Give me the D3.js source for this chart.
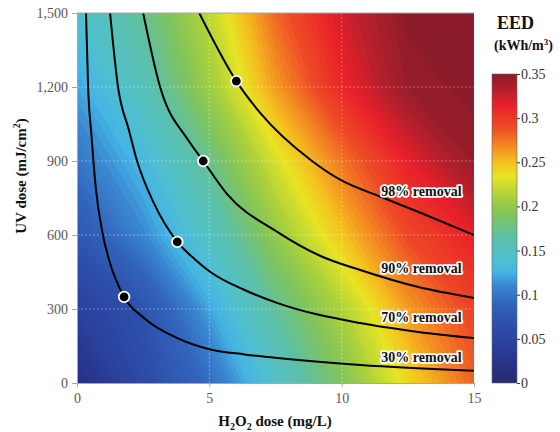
<!DOCTYPE html>
<html lang="en">
<head>
<meta charset="UTF-8">
<title>EED vs UV and H2O2 dose</title>
<style>
  body { margin: 0; background: #fff; }
  svg text { font-family: "Liberation Serif", "Times New Roman", serif; }
</style>
</head>
<body>
<div id="chart"></div>
<script src="https://d3js.org/d3.v7.min.js"></script>
<script>
// H2O2 dose (mg/L) columns and UV dose (mJ/cm2) rows of the EED field
var h2o2Grid = [0, 2.5, 5, 7.5, 10, 12.5, 15];
var uvGrid = [0, 300, 600, 900, 1200, 1500];
// EED (kWh/m3), one row per UV dose, lowest UV first
var eedRows = [
  [0.015, 0.060, 0.095, 0.145, 0.190, 0.240, 0.282],
  [0.045, 0.070, 0.120, 0.170, 0.212, 0.262, 0.295],
  [0.075, 0.110, 0.150, 0.200, 0.248, 0.292, 0.315],
  [0.100, 0.130, 0.175, 0.228, 0.275, 0.315, 0.345],
  [0.120, 0.155, 0.205, 0.262, 0.310, 0.345, 0.350],
  [0.140, 0.172, 0.218, 0.280, 0.322, 0.350, 0.350]
];

// removal curves, [H2O2, UV]
var curve30 = [[0.34,1500],[0.42,1200],[0.55,1000],[0.7,800],[0.98,600],[1.21,500],[1.78,349],[2.54,263],[3.79,182],[5.04,136],[6.33,116],[7.58,101],[10.7,73],[15,50]];
var curve70 = [[1.25,1500],[1.55,1200],[1.96,1026],[2.27,900],[2.9,730],[3.79,572],[4.48,499],[5.04,450],[6.33,377],[7.58,324],[10.7,243],[12.9,207],[15,182]];
var curve90 = [[2.5,1500],[3.14,1200],[4.2,985],[4.77,900],[5.68,765],[7.58,612],[9.2,515],[10.7,458],[12.9,389],[15,345]];
var curve98 = [[4.62,1500],[6.02,1224],[6.93,1094],[8.83,904],[9.96,823],[11.5,754],[13.0,689],[15,600]];
var curveNames = ["30% removal", "70% removal", "90% removal", "98% removal"];
// label anchor (left edge, baseline) in data units
var labelPos = [[11.5, 85], [11.5, 247], [11.5, 446], [11.5, 758]];
// marked operating points
var points = [[1.78,349],[3.79,572],[4.77,900],[6.02,1224]];

var xTicks = [0, 5, 10, 15];
var yTicks = [0, 300, 600, 900, 1200, 1500];
var eedTicks = [0, 0.05, 0.1, 0.15, 0.2, 0.25, 0.3, 0.35];
var eedTickLabels = ["0", "0.05", "0.1", "0.15", "0.2", "0.25", "0.3", "0.35"];

// colour map as seen on the colour bar
var cmapStops = [0, 0.03, 0.06, 0.09, 0.11, 0.125, 0.14, 0.165, 0.19, 0.21, 0.234, 0.25, 0.268, 0.29, 0.315, 0.33, 0.35];
var cmapColors = ["#262a70", "#283890", "#2c4aa6", "#3264bc", "#3a86d0", "#44b4e4", "#50c0d0", "#5cc0a8", "#80c45c",
                  "#a8d03c", "#e6e424", "#f4c020", "#f28a22", "#ee4a26", "#e8202a", "#b8202c", "#8c1c2a"];

var W = 560, H = 432;
var plot = {left: 77, right: 474, top: 13, bottom: 383};

var svg = d3.select("#chart").append("svg")
    .attr("width", W).attr("height", H);

var x = d3.scaleLinear().domain([0, 15]).range([plot.left, plot.right]);
var y = d3.scaleLinear().domain([0, 1500]).range([plot.bottom, plot.top]);
var color = d3.scaleLinear().domain(cmapStops).range(cmapColors).clamp(true);

svg.append("clipPath").attr("id", "plotclip")
  .append("rect")
    .attr("x", plot.left).attr("y", plot.top)
    .attr("width", plot.right - plot.left).attr("height", plot.bottom - plot.top);

// heat field: fine filled contour bands of the grid
var values = [].concat.apply([], eedRows);
var step = 0.004;
var thresholds = d3.range(0, 0.35, step);
var contours = d3.contours()
    .size([h2o2Grid.length, uvGrid.length])
    .thresholds(thresholds)(values);

// grid coordinate -> data value (grid node i sits at i + 0.5)
var gx = d3.scaleLinear().domain([0.5, h2o2Grid.length - 0.5]).range([h2o2Grid[0], h2o2Grid[h2o2Grid.length - 1]]);
var gy = d3.scaleLinear().domain([0.5, uvGrid.length - 0.5]).range([uvGrid[0], uvGrid[uvGrid.length - 1]]);
var gridPath = d3.geoPath(d3.geoTransform({
  point: function(px, py) { this.stream.point(x(gx(px)), y(gy(py))); }
}));

var field = svg.append("g").attr("clip-path", "url(#plotclip)");
field.selectAll("path.band")
  .data(contours)
  .enter().append("path")
    .attr("class", "band")
    .attr("d", gridPath)
    .attr("fill", function(d) { return color(d.value + step / 2); });

// faint dashed grid
field.selectAll("line.gx").data(xTicks.slice(1, -1)).enter().append("line")
    .attr("x1", function(d) { return x(d); }).attr("x2", function(d) { return x(d); })
    .attr("y1", plot.top).attr("y2", plot.bottom)
    .attr("stroke", "rgba(255,255,255,0.35)").attr("stroke-dasharray", "2,2");
field.selectAll("line.gy").data(yTicks.slice(1, -1)).enter().append("line")
    .attr("y1", function(d) { return y(d); }).attr("y2", function(d) { return y(d); })
    .attr("x1", plot.left).attr("x2", plot.right)
    .attr("stroke", "rgba(255,255,255,0.35)").attr("stroke-dasharray", "2,2");

// removal curves
var line = d3.line()
    .x(function(d) { return x(d[0]); })
    .y(function(d) { return y(d[1]); })
    .curve(d3.curveMonotoneX);
field.selectAll("path.curve")
  .data([curve30, curve70, curve90, curve98])
  .enter().append("path")
    .attr("class", "curve")
    .attr("d", line)
    .attr("fill", "none")
    .attr("stroke", "#000")
    .attr("stroke-width", 2);

// dots
svg.selectAll("circle.pt").data(points).enter().append("circle")
    .attr("class", "pt")
    .attr("cx", function(d) { return x(d[0]); })
    .attr("cy", function(d) { return y(d[1]); })
    .attr("r", 5.3)
    .attr("fill", "#000")
    .attr("stroke", "#fff")
    .attr("stroke-width", 1.8);

// curve labels with white halo
svg.selectAll("text.clabel").data(curveNames).enter().append("text")
    .attr("class", "clabel")
    .attr("x", function(d, i) { return x(labelPos[i][0]); })
    .attr("y", function(d, i) { return y(labelPos[i][1]); })
    .attr("font-size", 14).attr("font-weight", "bold")
    .attr("fill", "#111")
    .attr("stroke", "#fff").attr("stroke-width", 3.5)
    .attr("stroke-linejoin", "round")
    .attr("paint-order", "stroke")
    .text(function(d) { return d; });

// axes
var yAxis = svg.append("g")
    .attr("transform", "translate(" + plot.left + ",0)")
    .call(d3.axisLeft(y).tickValues(yTicks).tickFormat(d3.format(",")).tickSize(5).tickPadding(4));
var xAxis = svg.append("g")
    .attr("transform", "translate(0," + plot.bottom + ")")
    .call(d3.axisBottom(x).tickValues(xTicks).tickSize(4).tickPadding(6));
[yAxis, xAxis].forEach(function(ax) {
  ax.select(".domain").attr("stroke", "#a6a6a6");
  ax.selectAll(".tick line").attr("stroke", "#a6a6a6");
  ax.selectAll(".tick text").attr("fill", "#595959").attr("font-size", 14)
    .attr("font-family", "'Liberation Serif', 'Times New Roman', serif");
});
svg.append("line")
    .attr("x1", plot.left).attr("x2", plot.right)
    .attr("y1", plot.top).attr("y2", plot.top)
    .attr("stroke", "#a6a6a6");

// axis titles
var yt = svg.append("text")
    .attr("transform", "translate(26," + ((plot.top + plot.bottom) / 2 - 22) + ") rotate(-90)")
    .attr("text-anchor", "middle")
    .attr("font-size", 15).attr("font-weight", "bold").attr("fill", "#111");
yt.append("tspan").text("UV dose (mJ/cm");
yt.append("tspan").attr("font-size", 10).attr("dy", -6).text("2");
yt.append("tspan").attr("dy", 6).text(")");

var xt = svg.append("text")
    .attr("x", 275).attr("y", 426)
    .attr("text-anchor", "middle")
    .attr("font-size", 15).attr("font-weight", "bold").attr("fill", "#111");
xt.append("tspan").text("H");
xt.append("tspan").attr("font-size", 10).attr("dy", 4).text("2");
xt.append("tspan").attr("dy", -4).text("O");
xt.append("tspan").attr("font-size", 10).attr("dy", 4).text("2");
xt.append("tspan").attr("dy", -4).text(" dose (mg/L)");

// colour bar
var cb = {left: 492, right: 517, top: 74, bottom: 383};
var cbScale = d3.scaleLinear().domain([0, 0.35]).range([cb.bottom, cb.top]);
var grad = svg.append("defs").append("linearGradient")
    .attr("id", "cbgrad").attr("x1", 0).attr("y1", 1).attr("x2", 0).attr("y2", 0);
grad.selectAll("stop").data(cmapStops).enter().append("stop")
    .attr("offset", function(d) { return (d / 0.35 * 100) + "%"; })
    .attr("stop-color", function(d, i) { return cmapColors[i]; });
svg.append("rect")
    .attr("x", cb.left).attr("y", cb.top)
    .attr("width", cb.right - cb.left).attr("height", cb.bottom - cb.top)
    .attr("fill", "url(#cbgrad)")
    .attr("stroke", "#666").attr("stroke-width", 0.6);
var cbAxis = svg.append("g")
    .attr("transform", "translate(" + cb.right + ",0)")
    .call(d3.axisRight(cbScale).tickValues(eedTicks)
      .tickFormat(function(d, i) { return eedTickLabels[i]; })
      .tickSize(3).tickPadding(1));
cbAxis.select(".domain").remove();
cbAxis.selectAll(".tick line").attr("stroke", "#333");
cbAxis.selectAll(".tick text").attr("fill", "#333").attr("font-size", 14)
    .attr("font-family", "'Liberation Serif', 'Times New Roman', serif");

svg.append("text").attr("x", 497).attr("y", 29)
    .attr("font-size", 18).attr("font-weight", "bold").attr("fill", "#111")
    .text("EED");
var unit = svg.append("text").attr("x", 494).attr("y", 50)
    .attr("font-size", 14).attr("font-weight", "bold").attr("fill", "#111");
unit.append("tspan").text("(kWh/m");
unit.append("tspan").attr("font-size", 9).attr("dy", -5).text("3");
unit.append("tspan").attr("dy", 5).text(")");
</script>
</body>
</html>
